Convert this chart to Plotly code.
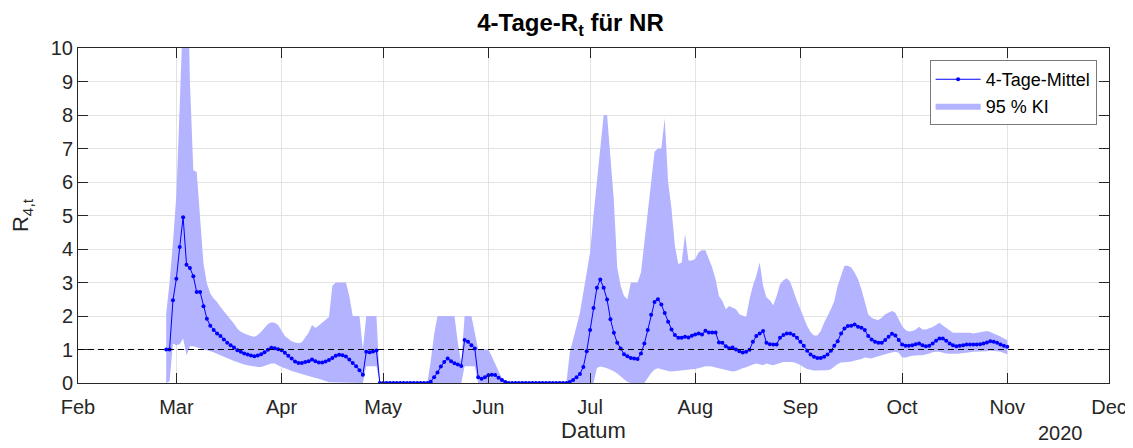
import pandas as pd
import plotly.graph_objects as go

START_DATE = "2020-02-27"
END_DATE = "2020-11-01"
AXIS_START = "2020-02-01"
AXIS_END = "2020-12-01"
REFERENCE_R = 1.0

TICK_DATES = ["2020-02-01", "2020-03-01", "2020-04-01", "2020-05-01", "2020-06-01",
              "2020-07-01", "2020-08-01", "2020-09-01", "2020-10-01", "2020-11-01",
              "2020-12-01"]
TICK_LABELS = ["Feb", "Mar", "Apr", "May", "Jun", "Jul", "Aug", "Sep", "Oct", "Nov", "Dec"]
Y_TICKS = [0, 1, 2, 3, 4, 5, 6, 7, 8, 9, 10]

# ---- 4-Tage-Mittel (daily values, by month) ----
r_feb = [1.00, 1.00, 2.47]
r_mar = [3.11, 4.06, 4.95, 3.53, 3.43, 3.19, 2.72, 2.72, 2.29, 1.92, 1.71, 1.58, 1.48, 1.40,
         1.30, 1.20, 1.13, 1.06, 0.98, 0.93, 0.88, 0.85, 0.82, 0.80, 0.82, 0.86, 0.92, 0.99,
         1.05, 1.04, 1.01]
r_apr = [0.98, 0.90, 0.81, 0.73, 0.64, 0.60, 0.60, 0.63, 0.65, 0.70, 0.65, 0.61, 0.61, 0.64,
         0.69, 0.75, 0.81, 0.84, 0.83, 0.79, 0.70, 0.60, 0.50, 0.38, 0.25, 0.93, 0.92, 0.94,
         0.97, 0.00]
r_may = [0.00, 0.00, 0.00, 0.00, 0.00, 0.00, 0.00, 0.00, 0.00, 0.00, 0.00, 0.00, 0.00,
         0.00, 0.04, 0.17, 0.31, 0.49, 0.63, 0.73, 0.65, 0.59, 0.55, 0.51, 1.28, 1.23, 1.13,
         1.03, 0.17, 0.13, 0.17]
r_jun = [0.23, 0.25, 0.24, 0.16, 0.09, 0.03, 0.00, 0.00, 0.00, 0.00, 0.00, 0.00, 0.00, 0.00,
         0.00, 0.00, 0.00, 0.00, 0.00, 0.00, 0.00, 0.00, 0.00, 0.00, 0.03, 0.09, 0.17, 0.27,
         0.48, 0.95]
r_jul = [1.58, 2.24, 2.84, 3.09, 2.84, 2.49, 1.90, 1.50, 1.20, 1.03, 0.86, 0.80, 0.75, 0.73,
         0.72, 0.88, 1.18, 1.58, 2.04, 2.42, 2.50, 2.34, 2.09, 1.83, 1.60, 1.43, 1.35, 1.35,
         1.38, 1.36, 1.41]
r_aug = [1.45, 1.48, 1.45, 1.56, 1.51, 1.51, 1.51, 1.21, 1.20, 1.10, 1.04, 1.06, 1.00, 0.95,
         0.91, 0.93, 0.99, 1.23, 1.40, 1.48, 1.55, 1.20, 1.16, 1.15, 1.15, 1.35, 1.43, 1.48,
         1.48, 1.43, 1.35]
r_sep = [1.23, 1.11, 0.96, 0.85, 0.78, 0.75, 0.75, 0.78, 0.85, 0.96, 1.11, 1.25, 1.48, 1.63,
         1.70, 1.71, 1.75, 1.68, 1.65, 1.58, 1.40, 1.30, 1.23, 1.20, 1.20, 1.28, 1.38, 1.47,
         1.42, 1.28]
r_oct = [1.15, 1.11, 1.11, 1.13, 1.16, 1.18, 1.13, 1.10, 1.11, 1.18, 1.26, 1.33, 1.33, 1.26,
         1.18, 1.13, 1.10, 1.11, 1.13, 1.15, 1.15, 1.15, 1.15, 1.16, 1.18, 1.21, 1.25, 1.23,
         1.20, 1.15, 1.11]
r_nov = [1.08]

# ---- 95 % KI, upper bound ----
up_feb = [2.07, 3.00, 4.20]
up_mar = [5.60, 8.30, 14.0, 14.0, 9.00, 6.35, 6.30, 4.96, 3.57, 2.97, 2.67, 2.52, 2.42, 2.27,
          2.15, 2.02, 1.92, 1.77, 1.62, 1.53, 1.48, 1.43, 1.40, 1.38, 1.43, 1.53, 1.65, 1.76,
          1.81, 1.80, 1.73]
up_apr = [1.55, 1.40, 1.32, 1.25, 1.21, 1.19, 1.22, 1.35, 1.50, 1.73, 1.64, 1.72, 1.80, 1.90,
          1.97, 2.90, 3.00, 3.00, 3.00, 3.00, 2.60, 2.00, 2.00, 2.00, 1.00, 2.00, 2.00, 2.00,
          2.00, 0.00]
up_may = [0.00, 0.00, 0.00, 0.00, 0.00, 0.00, 0.00, 0.00, 0.00, 0.00, 0.00, 0.00, 0.00,
          0.00, 0.65, 1.45, 2.00, 2.00, 2.00, 2.00, 2.00, 2.00, 1.20, 0.60, 2.00, 2.00, 2.00,
          1.50, 1.00, 1.00, 1.00]
up_jun = [1.00, 0.80, 0.55, 0.35, 0.15, 0.05, 0.00, 0.00, 0.00, 0.00, 0.00, 0.00, 0.00, 0.00,
          0.00, 0.00, 0.00, 0.00, 0.00, 0.00, 0.00, 0.00, 0.00, 0.00, 0.90, 1.30, 1.70, 2.10,
          2.70, 3.30]
up_jul = [3.90, 5.00, 6.00, 7.00, 8.00, 8.00, 6.80, 5.45, 3.45, 2.90, 2.60, 2.50, 3.00, 3.00,
          3.00, 3.30, 4.20, 5.00, 6.00, 6.90, 7.00, 7.00, 7.90, 6.00, 5.20, 4.10, 3.55, 3.60,
          4.45, 3.66, 3.66]
up_aug = [3.70, 3.90, 3.96, 3.96, 3.70, 3.45, 3.10, 2.60, 2.45, 2.20, 2.30, 2.25, 2.20, 2.05,
          2.00, 1.97, 2.50, 2.90, 3.20, 3.60, 2.90, 2.55, 2.47, 2.32, 2.60, 2.95, 3.07, 3.13,
          3.02, 2.70, 2.45]
up_sep = [2.20, 1.95, 1.70, 1.52, 1.42, 1.42, 1.55, 1.80, 2.00, 2.20, 2.45, 2.90, 3.20, 3.50,
          3.50, 3.45, 3.30, 3.10, 2.80, 2.40, 2.05, 1.95, 1.90, 1.88, 1.95, 2.05, 2.10, 2.15,
          2.10, 1.90]
up_oct = [1.70, 1.58, 1.54, 1.55, 1.60, 1.68, 1.60, 1.60, 1.63, 1.67, 1.73, 1.80, 1.72, 1.65,
          1.58, 1.50, 1.50, 1.50, 1.51, 1.52, 1.50, 1.48, 1.50, 1.53, 1.54, 1.55, 1.52, 1.48,
          1.45, 1.39, 1.33]
up_nov = [1.28]

# ---- 95 % KI, lower bound ----
lo_feb = [0.00, 0.05, 1.18]
lo_mar = [1.13, 1.16, 1.33, 0.83, 1.10, 1.10, 1.06, 1.03, 1.00, 0.98, 0.95, 0.92, 0.88, 0.83,
          0.78, 0.73, 0.70, 0.66, 0.62, 0.58, 0.55, 0.53, 0.51, 0.49, 0.48, 0.48, 0.50, 0.54,
          0.58, 0.58, 0.53]
lo_apr = [0.48, 0.43, 0.40, 0.36, 0.32, 0.28, 0.25, 0.23, 0.21, 0.18, 0.15, 0.13, 0.10, 0.06,
          0.02, 0.00, 0.00, 0.00, 0.00, 0.00, 0.00, 0.00, 0.00, 0.00, 0.00, 0.50, 0.50, 0.50,
          0.50, 0.00]
lo_may = [0.00, 0.00, 0.00, 0.00, 0.00, 0.00, 0.00, 0.00, 0.00, 0.00, 0.00, 0.00, 0.00,
          0.00, 0.00, 0.00, 0.00, 0.00, 0.00, 0.00, 0.00, 0.00, 0.00, 0.00, 0.50, 0.50, 0.50,
          0.50, 0.00, 0.00, 0.00]
lo_jun = [0.00] * 30
lo_jul = [0.00, 0.00, 0.45, 0.49, 0.47, 0.44, 0.40, 0.35, 0.28, 0.19, 0.12, 0.03, 0.00, 0.00,
          0.00, 0.00, 0.00, 0.15, 0.30, 0.40, 0.44, 0.42, 0.39, 0.36, 0.34, 0.35, 0.37, 0.38,
          0.39, 0.40, 0.41]
lo_aug = [0.42, 0.44, 0.47, 0.50, 0.50, 0.49, 0.46, 0.44, 0.41, 0.39, 0.36, 0.34, 0.36, 0.39,
          0.44, 0.47, 0.50, 0.55, 0.58, 0.55, 0.53, 0.58, 0.55, 0.53, 0.56, 0.60, 0.63, 0.64,
          0.63, 0.62, 0.58]
lo_sep = [0.54, 0.47, 0.42, 0.39, 0.37, 0.37, 0.37, 0.37, 0.38, 0.41, 0.50, 0.57, 0.61, 0.62,
          0.63, 0.64, 0.66, 0.69, 0.72, 0.76, 0.75, 0.73, 0.77, 0.80, 0.84, 0.86, 0.89, 0.92,
          0.93, 0.90]
lo_oct = [0.76, 0.76, 0.79, 0.81, 0.83, 0.83, 0.83, 0.85, 0.88, 0.92, 0.93, 0.93, 0.91, 0.88,
          0.87, 0.86, 0.87, 0.88, 0.89, 0.90, 0.92, 0.93, 0.94, 0.95, 0.95, 0.95, 0.96, 0.96,
          0.95, 0.93, 0.90]
lo_nov = [0.86]

R_MEAN = r_feb + r_mar + r_apr + r_may + r_jun + r_jul + r_aug + r_sep + r_oct + r_nov
KI_UPPER = up_feb + up_mar + up_apr + up_may + up_jun + up_jul + up_aug + up_sep + up_oct + up_nov
KI_LOWER = lo_feb + lo_mar + lo_apr + lo_may + lo_jun + lo_jul + lo_aug + lo_sep + lo_oct + lo_nov

dates = pd.date_range(START_DATE, END_DATE, freq="D")
assert len(dates) == len(R_MEAN) == len(KI_UPPER) == len(KI_LOWER), (
    len(dates), len(R_MEAN), len(KI_UPPER), len(KI_LOWER))

FONT = "Liberation Sans, Arial, Helvetica, sans-serif"
AXIS_COLOR = "#262626"
GRID_COLOR = "#e3e3e3"

fig = go.Figure()

band_x = list(dates) + list(dates[::-1])
band_y = KI_UPPER + KI_LOWER[::-1]
fig.add_trace(go.Scatter(
    x=band_x, y=band_y, fill="toself", mode="lines",
    fillcolor="rgb(179,179,255)", line=dict(width=0, color="rgb(179,179,255)"),
    name="95 % KI", legendrank=2, hoverinfo="skip"))

fig.add_trace(go.Scatter(
    x=dates, y=R_MEAN, mode="lines+markers", name="4-Tage-Mittel",
    line=dict(color="#0000ff", width=1), marker=dict(color="#0000ff", size=4),
    legendrank=1))

fig.add_hline(y=REFERENCE_R, line=dict(color="#000000", width=1, dash="6px,4px"))

# the page body adds an 8px offset; the figure is sized to fill the 1133x448 window
fig.update_layout(
    width=1125, height=440,
    margin=dict(l=70, r=24, t=40, b=65),
    paper_bgcolor="white", plot_bgcolor="white",
    font=dict(family=FONT, size=20, color=AXIS_COLOR),
    title=dict(text="<b>4-Tage-R<sub>t</sub> für NR</b>", x=0.5, xanchor="center",
               y=0.967, yanchor="middle", font=dict(size=24, color="#000000")),
    showlegend=True,
    legend=dict(x=0.988, y=0.964, xanchor="right", yanchor="top",
                bgcolor="white", bordercolor="#7a7a7a", borderwidth=1,
                font=dict(size=18, color="#000000"), traceorder="normal",
                tracegroupgap=0, itemwidth=45),
)

fig.update_xaxes(
    type="date", range=[AXIS_START, AXIS_END],
    tickvals=TICK_DATES, ticktext=TICK_LABELS, ticklabeloverflow="allow",
    showgrid=True, gridcolor=GRID_COLOR, gridwidth=1,
    showline=True, linecolor=AXIS_COLOR, linewidth=1, mirror="ticks",
    ticks="inside", ticklen=10, tickcolor=AXIS_COLOR, tickwidth=1,
    tickfont=dict(size=20, color=AXIS_COLOR), ticklabelstandoff=6,
    title=dict(text="Datum", font=dict(size=22, color=AXIS_COLOR), standoff=5),
    zeroline=False, automargin=False,
)
fig.update_yaxes(
    range=[0, 10], tickvals=Y_TICKS,
    showgrid=True, gridcolor=GRID_COLOR, gridwidth=1,
    showline=True, linecolor=AXIS_COLOR, linewidth=1, mirror="ticks",
    ticks="inside", ticklen=10, tickcolor=AXIS_COLOR, tickwidth=1,
    tickfont=dict(size=20, color=AXIS_COLOR),
    title=dict(text="R<sub>4,t</sub>", font=dict(size=22, color=AXIS_COLOR), standoff=16),
    zeroline=False, automargin=False,
)

fig.add_annotation(text="2020", xref="paper", yref="paper", x=0.977, y=-0.149,
                   xanchor="right", yanchor="middle", showarrow=False,
                   font=dict(size=20, color=AXIS_COLOR))

fig.write_html("out.html")
